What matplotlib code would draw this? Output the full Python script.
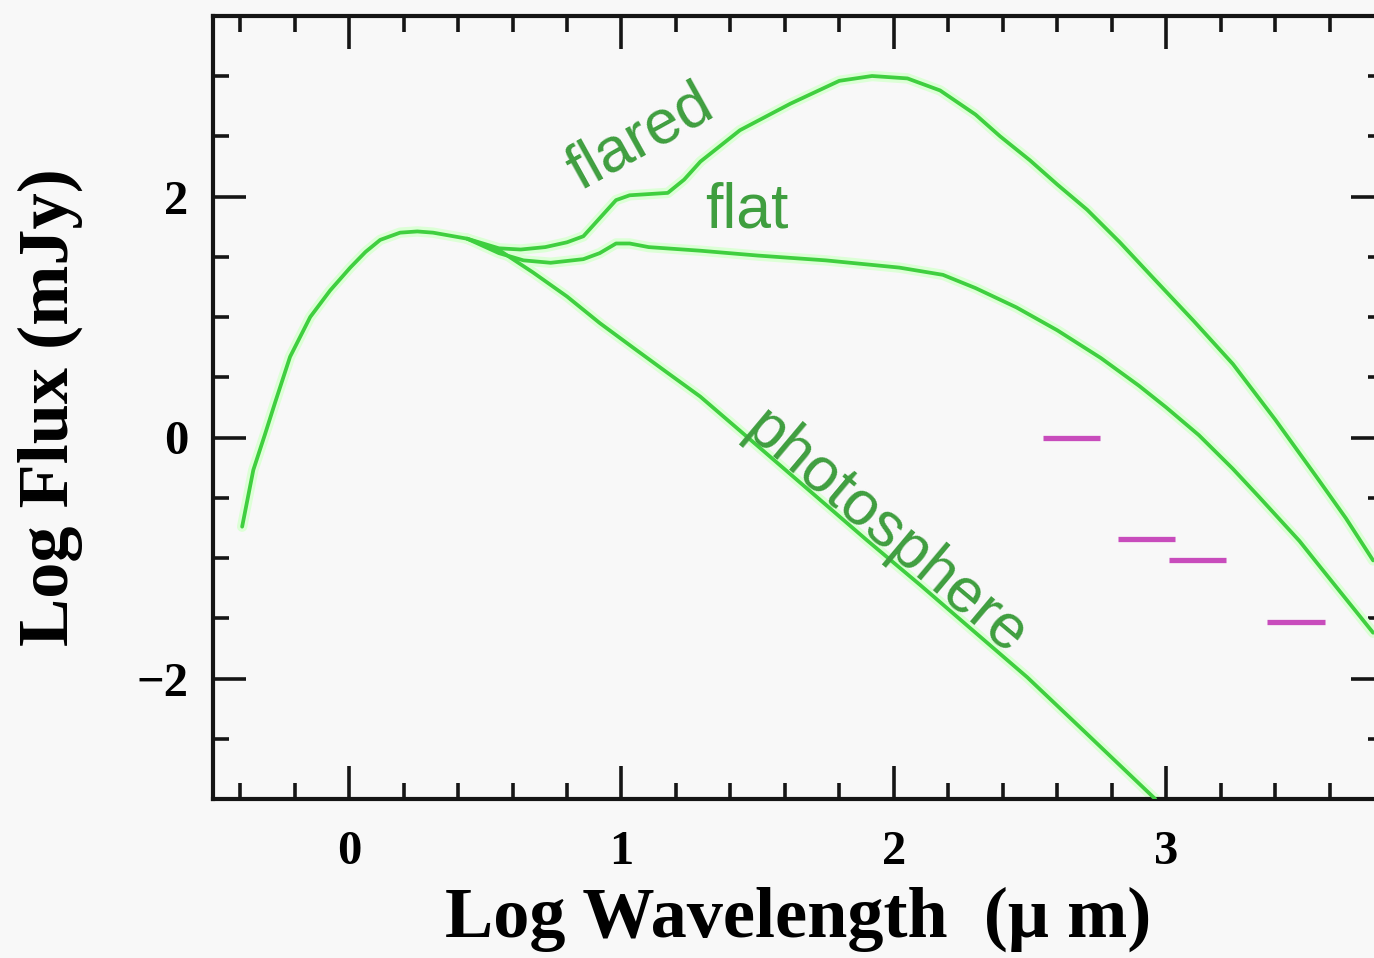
import matplotlib
matplotlib.use("Agg")
import matplotlib.pyplot as plt
from matplotlib.ticker import MultipleLocator, FixedLocator

# --- model spectral energy distributions (log wavelength [um], log flux [mJy]) ---
photo_x = [-0.393, -0.352, -0.31, -0.272, -0.217, -0.143, -0.07, 0.004, 0.06, 0.114,
           0.187, 0.25, 0.308, 0.433, 0.554, 0.675, 0.80, 0.92, 1.04, 1.167,
           1.289, 1.50, 1.70, 1.90, 2.10, 2.30, 2.49, 2.70, 2.96]
photo_y = [-0.74, -0.27, 0.02, 0.29, 0.67, 1.00, 1.22, 1.41, 1.54, 1.64,
           1.70, 1.71, 1.70, 1.65, 1.55, 1.37, 1.17, 0.95, 0.75, 0.54,
           0.34, -0.07, -0.46, -0.85, -1.23, -1.62, -1.99, -2.44, -3.0]

flared_x = [0.433, 0.55, 0.63, 0.72, 0.80, 0.86, 0.92, 0.98, 1.03, 1.10,
            1.17, 1.23, 1.29, 1.435, 1.62, 1.80, 1.92, 2.05, 2.17, 2.30,
            2.39, 2.50, 2.60, 2.71, 2.83, 2.95, 3.10, 3.245, 3.40, 3.55,
            3.66, 3.76]
flared_y = [1.65, 1.57, 1.56, 1.58, 1.62, 1.67, 1.82, 1.97, 2.01, 2.02,
            2.03, 2.14, 2.29, 2.55, 2.77, 2.96, 3.00, 2.98, 2.88, 2.68,
            2.50, 2.30, 2.10, 1.89, 1.62, 1.33, 0.97, 0.61, 0.15, -0.32,
            -0.67, -1.02]

flat_x = [0.433, 0.55, 0.64, 0.74, 0.86, 0.92, 0.98, 1.03, 1.10, 1.29,
          1.50, 1.75, 2.02, 2.18, 2.30, 2.45, 2.60, 2.76, 2.90, 3.00,
          3.12, 3.245, 3.34, 3.49, 3.55, 3.76]
flat_y = [1.65, 1.53, 1.47, 1.45, 1.48, 1.53, 1.61, 1.61, 1.58, 1.55,
          1.51, 1.47, 1.41, 1.35, 1.24, 1.08, 0.89, 0.66, 0.43, 0.25,
          0.02, -0.26, -0.49, -0.86, -1.03, -1.62]

# --- (sub)millimetre photometry: 450 um, 850 um, 1.3 mm, 3 mm ---
obs_x = [2.653, 2.929, 3.114, 3.477]
obs_y = [0.0, -0.84, -1.02, -1.53]
obs_halfwidth = 0.105

x_major = [0, 1, 2, 3]
y_major = [-2, 0, 2]

BG = "#f8f8f8"
LINE = "#3fcf3f"
HALO = "#dcffd6"
TEXT_GREEN = "#3f9e3f"
MAGENTA = "#c84cbc"

fig = plt.figure(figsize=(13.74, 9.58), dpi=100, facecolor=BG)
W, H = 1374.0, 958.0
left_px, right_px, top_px, bottom_px = 213, 1384, 15.75, 799
ax = fig.add_axes([left_px / W, 1 - bottom_px / H,
                   (right_px - left_px) / W, (bottom_px - top_px) / H])
ax.set_facecolor(BG)
ax.set_xlim(-0.5, 3.8)
ax.set_ylim(-3.0, 3.5)

curves = [(photo_x, photo_y), (flared_x, flared_y), (flat_x, flat_y)]
for xs, ys in curves:
    ax.plot(xs, ys, color=HALO, lw=7.5, solid_capstyle="round", zorder=2)
for xs, ys in curves:
    ax.plot(xs, ys, color=LINE, lw=2.7, solid_capstyle="round",
            solid_joinstyle="round", zorder=3)

ax.hlines(obs_y, [x - obs_halfwidth for x in obs_x], [x + obs_halfwidth for x in obs_x],
          color=MAGENTA, lw=3.8, zorder=4)

lab_font = dict(family="Liberation Sans", fontsize=45, color=TEXT_GREEN, zorder=5)
ax.text(1.07, 2.48, "flared", rotation=29, ha="center", va="center",
        rotation_mode="anchor", **lab_font)
ax.text(1.46, 1.88, "flat", rotation=0, ha="center", va="center", **lab_font)
ax.text(1.97, -0.79, "photosphere", rotation=-40, ha="center", va="center",
        rotation_mode="anchor", **lab_font)

# axes frame and ticks
for sp in ax.spines.values():
    sp.set_linewidth(3.0)
    sp.set_color("#151515")

ax.xaxis.set_major_locator(FixedLocator(x_major))
ax.xaxis.set_minor_locator(MultipleLocator(0.2))
ax.yaxis.set_major_locator(FixedLocator(y_major))
ax.yaxis.set_minor_locator(MultipleLocator(0.5))
ax.tick_params(which="both", direction="in", top=True, right=True,
               width=2.6, color="#151515")
ax.tick_params(which="major", length=23.5)
ax.tick_params(which="minor", length=11.5)
ax.tick_params(axis="x", which="major", pad=22)
ax.tick_params(axis="y", which="major", pad=18)

tick_font = dict(family="Liberation Serif", weight="bold", size=35)
ax.set_xticks(x_major)
ax.set_xticklabels([str(v) for v in x_major], fontdict=tick_font)
ax.set_yticks(y_major)
ax.set_yticklabels([("\u2212" + str(-v)) if v < 0 else str(v) for v in y_major],
                   fontdict=tick_font)

axis_font = dict(family="Liberation Serif", weight="bold", size=52)
ax.set_xlabel("Log Wavelength  (\u03bc m)", va="baseline", **axis_font)
ax.xaxis.set_label_coords(0.5, -(937 - bottom_px) / (bottom_px - top_px))
ax.set_ylabel("Log Flux (mJy)", va="center", **axis_font)
ax.yaxis.set_label_coords((50 - left_px) / (right_px - left_px), 0.5)

fig.savefig("out.png", dpi=100, facecolor=BG)
